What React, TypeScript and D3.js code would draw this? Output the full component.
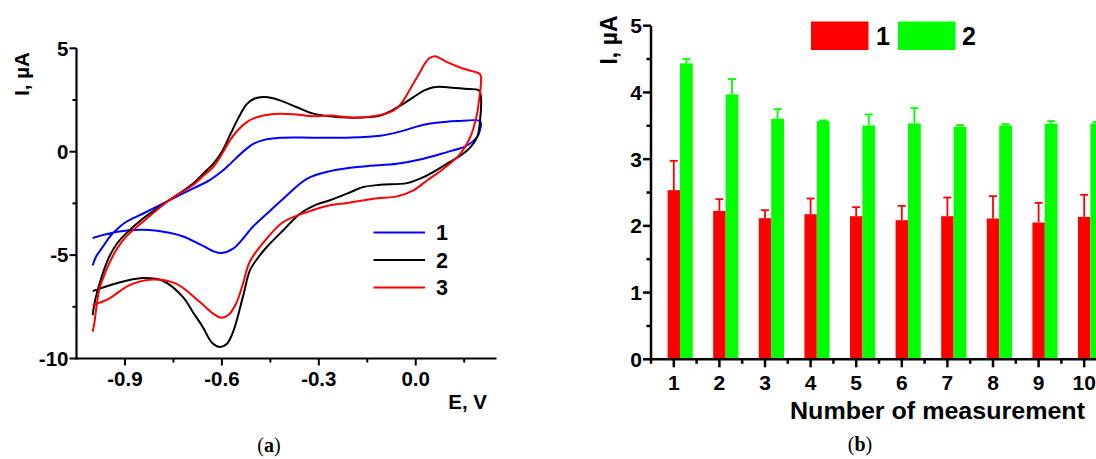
import React from 'react';
import * as d3 from 'd3';

type P = [number, number];

// CV curve 1 (blue): forward branch then reverse branch
const cv1: P[] = [
  [-1.0, -5.5], [-0.99, -5.09], [-0.969, -4.61], [-0.949, -4.15], [-0.928, -3.8], [-0.897, -3.4],
  [-0.845, -3.0], [-0.763, -2.35], [-0.69, -1.79], [-0.639, -1.39], [-0.6, -0.95], [-0.575, -0.6],
  [-0.55, -0.22], [-0.523, 0.15], [-0.5, 0.4], [-0.472, 0.56], [-0.42, 0.67], [-0.317, 0.68],
  [-0.213, 0.68], [-0.11, 0.77], [-0.038, 1.02], [0.0, 1.2], [0.045, 1.36], [0.09, 1.44],
  [0.128, 1.48], [0.198, 1.49],
  [0.202, 1.35], [0.198, 1.0], [0.19, 0.71], [0.159, 0.3], [0.128, 0.12], [0.097, -0.02],
  [0.024, -0.34], [-0.058, -0.58], [-0.162, -0.71], [-0.265, -0.94], [-0.337, -1.31],
  [-0.41, -2.27], [-0.461, -3.0], [-0.505, -3.64], [-0.54, -4.3], [-0.565, -4.69], [-0.601, -4.9],
  [-0.625, -4.82], [-0.65, -4.62], [-0.68, -4.38], [-0.72, -4.1], [-0.763, -3.92], [-0.845, -3.77],
  [-0.928, -3.88], [-1.0, -4.17],
];

// CV curve 2 (black)
const cv2: P[] = [
  [-1.0, -7.9], [-0.995, -7.4], [-0.99, -7.02], [-0.97, -5.95], [-0.949, -5.09], [-0.925, -4.45],
  [-0.897, -3.96], [-0.845, -3.24], [-0.763, -2.35], [-0.69, -1.55], [-0.647, -0.9],
  [-0.625, -0.55], [-0.6, 0.0], [-0.575, 0.8], [-0.55, 1.6], [-0.523, 2.3], [-0.5, 2.56],
  [-0.472, 2.64], [-0.445, 2.6], [-0.42, 2.48], [-0.368, 2.15], [-0.317, 1.84], [-0.265, 1.71],
  [-0.193, 1.64], [-0.11, 1.75], [-0.079, 1.95], [-0.04, 2.3], [-0.007, 2.64], [0.025, 2.95],
  [0.055, 3.12], [0.097, 3.12], [0.15, 3.04], [0.196, 2.96],
  [0.202, 2.6], [0.2, 1.67], [0.19, 0.71], [0.159, 0.06], [0.097, -0.58], [0.024, -1.23],
  [-0.027, -1.52], [-0.11, -1.6], [-0.162, -1.71], [-0.213, -2.03], [-0.265, -2.35],
  [-0.306, -2.55], [-0.358, -3.0], [-0.41, -3.8], [-0.461, -4.61], [-0.494, -5.25],
  [-0.513, -5.73], [-0.535, -7.02], [-0.565, -8.7], [-0.585, -9.3], [-0.606, -9.44],
  [-0.63, -9.25], [-0.66, -8.45], [-0.69, -7.75], [-0.721, -7.02], [-0.783, -6.24],
  [-0.845, -6.11], [-0.928, -6.37], [-1.0, -6.74],
];

// CV curve 3 (red)
const cv3: P[] = [
  [-1.0, -8.71], [-0.995, -8.31], [-0.98, -6.7], [-0.965, -6.0], [-0.949, -5.41], [-0.925, -4.7],
  [-0.897, -4.12], [-0.845, -3.4], [-0.763, -2.35], [-0.69, -1.62], [-0.66, -1.2],
  [-0.627, -0.74], [-0.605, -0.25], [-0.575, 0.55], [-0.55, 1.05], [-0.523, 1.43], [-0.5, 1.62],
  [-0.472, 1.75], [-0.42, 1.84], [-0.37, 1.8], [-0.317, 1.71], [-0.265, 1.75], [-0.193, 1.64],
  [-0.13, 1.72], [-0.079, 1.91], [-0.055, 2.15], [-0.038, 2.48], [0.004, 3.6], [0.04, 4.49],
  [0.06, 4.62], [0.097, 4.33], [0.148, 4.01], [0.198, 3.77],
  [0.202, 3.6], [0.201, 3.12], [0.195, 2.4], [0.19, 1.84], [0.169, 0.71], [0.138, -0.1],
  [0.086, -0.82], [0.035, -1.39], [-0.007, -1.87], [-0.058, -2.16], [-0.131, -2.27],
  [-0.213, -2.48], [-0.265, -2.59], [-0.337, -2.92], [-0.41, -3.4], [-0.461, -4.2],
  [-0.513, -5.3], [-0.535, -6.4], [-0.556, -7.34], [-0.58, -7.9], [-0.601, -8.03],
  [-0.625, -7.85], [-0.668, -7.27], [-0.742, -6.38], [-0.814, -6.18], [-0.887, -6.46],
  [-0.949, -7.1], [-1.0, -7.42],
];

const cvSeries = [cv1, cv2, cv3];
const cvColors = ['#0000ff', '#000000', '#ff0000'];
const cvLabels = ['1', '2', '3'];

const eTicks = [-0.9, -0.6, -0.3, 0.0];
const eMinor = [-0.75, -0.45, -0.15, 0.15];
const iTicks = [-10, -5, 0, 5];
const iMinor = [-7.5, -2.5, 2.5];

// Bar chart
const measurements = [1, 2, 3, 4, 5, 6, 7, 8, 9, 10];
const bar1 = [2.535, 2.225, 2.115, 2.175, 2.145, 2.085, 2.145, 2.11, 2.05, 2.135];
const bar1Err = [0.44, 0.175, 0.12, 0.235, 0.135, 0.215, 0.28, 0.335, 0.295, 0.33];
const bar2 = [4.435, 3.97, 3.605, 3.57, 3.505, 3.535, 3.485, 3.505, 3.53, 3.535];
const bar2Err = [0.065, 0.23, 0.145, 0.01, 0.165, 0.23, 0.025, 0.02, 0.04, 0.02];
const barLabels = ['1', '2'];
const barColors = ['#ff0000', '#00ff00'];
const yTicksB = [0, 1, 2, 3, 4, 5];
const yMinorB = [0.5, 1.5, 2.5, 3.5, 4.5];
const xMinorB = [0.5, 1.5, 2.5, 3.5, 4.5, 5.5, 6.5, 7.5, 8.5, 9.5, 10.5];

const SANS = '"Liberation Sans", Arial, sans-serif';
const SERIF = '"Liberation Serif", "Times New Roman", serif';

export default function App() {
  // Left panel scales
  const xE = d3.scaleLinear().domain([-1.05, 0.25]).range([76.5, 496.5]);
  const yI = d3.scaleLinear().domain([-10, 5]).range([358.5, 48.3]);
  const line = d3
    .line<P>()
    .x((d) => xE(d[0]))
    .y((d) => yI(d[1]))
    .curve(d3.curveCatmullRom.alpha(0.5));

  // Right panel scales
  const xB = d3.scaleLinear().domain([0.5, 10.5]).range([651, 1107]);
  const yB = d3.scaleLinear().domain([0, 5]).range([359.3, 25.7]);
  const band = xB(2) - xB(1);
  const bw1 = band * 0.272;
  const bw2 = band * 0.28;

  return (
    <svg width={1096} height={459} style={{ display: 'block', position: 'absolute', left: 0, top: 0 }}>
      <rect x={0} y={0} width={1096} height={459} fill="#fff" />
      {/* ---------- Left panel ---------- */}
      <g>
        {cvSeries.map((s, i) => (
          <path key={i} d={line(s) || ''} fill="none" stroke={cvColors[i]} strokeWidth={2} strokeLinejoin="round" />
        ))}
        {/* axes */}
        <line x1={xE(-1.05)} x2={xE(-1.05)} y1={yI(5)} y2={yI(-10) + 1} stroke="#000" strokeWidth={2.2} />
        <line x1={xE(-1.05) - 1} x2={xE(0.25)} y1={yI(-10)} y2={yI(-10)} stroke="#000" strokeWidth={2.2} />
        {eTicks.map((t) => (
          <g key={'e' + t}>
            <line x1={xE(t)} x2={xE(t)} y1={yI(-10)} y2={yI(-10) + 7} stroke="#000" strokeWidth={2} />
            <text x={xE(t)} y={385.5} textAnchor="middle" fontFamily={SANS} fontWeight="bold" fontSize={20.5}>
              {d3.format('.1f')(t).replace('−', '-')}
            </text>
          </g>
        ))}
        {eMinor.map((t) => (
          <line key={'em' + t} x1={xE(t)} x2={xE(t)} y1={yI(-10)} y2={yI(-10) + 4} stroke="#000" strokeWidth={2} />
        ))}
        {iTicks.map((t) => (
          <g key={'i' + t}>
            <line x1={xE(-1.05) - 7} x2={xE(-1.05)} y1={yI(t)} y2={yI(t)} stroke="#000" strokeWidth={2} />
            <text x={68.5} y={yI(t)} dy="0.36em" textAnchor="end" fontFamily={SANS} fontWeight="bold" fontSize={20.5}>
              {String(t)}
            </text>
          </g>
        ))}
        {iMinor.map((t) => (
          <line key={'im' + t} x1={xE(-1.05) - 4} x2={xE(-1.05)} y1={yI(t)} y2={yI(t)} stroke="#000" strokeWidth={2} />
        ))}
        <text transform="translate(29,74) rotate(-90)" textAnchor="middle" fontFamily={SANS} fontWeight="bold" fontSize={20.5}>
          I, µA
        </text>
        <text x={487} y={409} textAnchor="end" fontFamily={SANS} fontWeight="bold" fontSize={20.5}>
          E, V
        </text>
        {/* legend */}
        {cvLabels.map((l, i) => (
          <g key={'lg' + l}>
            <line x1={373.5} x2={425} y1={232.5 + i * 27.5} y2={232.5 + i * 27.5} stroke={cvColors[i]} strokeWidth={2} />
            <text x={436} y={232.5 + i * 27.5} dy="0.36em" fontFamily={SANS} fontWeight="bold" fontSize={21.5}>
              {l}
            </text>
          </g>
        ))}
        <text x={269} y={452} textAnchor="middle" fontFamily={SERIF} fontSize={20}>
          (<tspan fontWeight="bold">a</tspan>)
        </text>
      </g>

      {/* ---------- Right panel ---------- */}
      <g>
        {measurements.map((m, i) => {
          const cx = xB(m);
          const gx = cx + bw1 / 2;
          const gc = gx + bw2 / 2;
          return (
            <g key={'b' + m}>
              <rect x={cx - bw1 / 2} y={yB(bar1[i])} width={bw1} height={yB(0) - yB(bar1[i])} fill={barColors[0]} />
              <rect x={gx} y={yB(bar2[i])} width={bw2} height={yB(0) - yB(bar2[i])} fill={barColors[1]} />
              <line x1={cx} x2={cx} y1={yB(bar1[i])} y2={yB(bar1[i] + bar1Err[i])} stroke={barColors[0]} strokeWidth={1.8} />
              <line x1={cx - 4} x2={cx + 4} y1={yB(bar1[i] + bar1Err[i])} y2={yB(bar1[i] + bar1Err[i])} stroke={barColors[0]} strokeWidth={1.8} />
              <line x1={gc} x2={gc} y1={yB(bar2[i])} y2={yB(bar2[i] + bar2Err[i])} stroke={barColors[1]} strokeWidth={1.8} />
              <line x1={gc - 4} x2={gc + 4} y1={yB(bar2[i] + bar2Err[i])} y2={yB(bar2[i] + bar2Err[i])} stroke={barColors[1]} strokeWidth={1.8} />
            </g>
          );
        })}
        {/* axes */}
        <line x1={xB(0.5)} x2={xB(0.5)} y1={yB(5)} y2={yB(0) + 1.2} stroke="#000" strokeWidth={2.5} />
        <line x1={xB(0.5) - 1.2} x2={1096} y1={yB(0)} y2={yB(0)} stroke="#000" strokeWidth={2.5} />
        {yTicksB.map((t) => (
          <g key={'yb' + t}>
            <line x1={xB(0.5) - 8} x2={xB(0.5)} y1={yB(t)} y2={yB(t)} stroke="#000" strokeWidth={2.5} />
            <text x={642} y={yB(t)} dy="0.36em" textAnchor="end" fontFamily={SANS} fontWeight="bold" fontSize={21}>
              {String(t)}
            </text>
          </g>
        ))}
        {yMinorB.map((t) => (
          <line key={'ybm' + t} x1={xB(0.5) - 4.5} x2={xB(0.5)} y1={yB(t)} y2={yB(t)} stroke="#000" strokeWidth={2.5} />
        ))}
        {measurements.map((m) => (
          <g key={'xb' + m}>
            <line x1={xB(m)} x2={xB(m)} y1={yB(0)} y2={yB(0) + 8} stroke="#000" strokeWidth={2.5} />
            <text x={xB(m)} y={390} textAnchor="middle" fontFamily={SANS} fontWeight="bold" fontSize={21}>
              {String(m)}
            </text>
          </g>
        ))}
        {xMinorB.map((t) => (
          <line key={'xbm' + t} x1={xB(t)} x2={xB(t)} y1={yB(0)} y2={yB(0) + 4.5} stroke="#000" strokeWidth={2.5} />
        ))}
        <text transform="translate(617,40) rotate(-90)" textAnchor="middle" fontFamily={SANS} fontWeight="bold" fontSize={23}>
          I, µA
        </text>
        <text x={790} y={419} fontFamily={SANS} fontWeight="bold" fontSize={24} textLength={295} lengthAdjust="spacingAndGlyphs">
          Number of measurement
        </text>
        {/* legend */}
        {barLabels.map((l, i) => (
          <g key={'bl' + l}>
            <rect x={811 + i * 87} y={21.5} width={57.5} height={28.5} fill={barColors[i]} />
            <text x={883 + i * 86} y={36} dy="0.36em" textAnchor="middle" fontFamily={SANS} fontWeight="bold" fontSize={25}>
              {l}
            </text>
          </g>
        ))}
        <text x={860} y={451} textAnchor="middle" fontFamily={SERIF} fontSize={20}>
          (<tspan fontWeight="bold">b</tspan>)
        </text>
      </g>
    </svg>
  );
}
